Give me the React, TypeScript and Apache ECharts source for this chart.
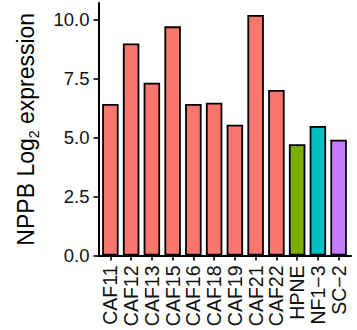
import React, { useEffect, useRef } from "react";
import * as echarts from "echarts";

const categories = ["CAF11", "CAF12", "CAF13", "CAF15", "CAF16", "CAF18", "CAF19", "CAF21", "CAF22", "HPNE", "NF1−3", "SC−2"];
const values = [6.43, 8.99, 7.33, 9.72, 6.43, 6.48, 5.55, 10.2, 7.02, 4.72, 5.49, 4.91];
const groups = ["CAF", "CAF", "CAF", "CAF", "CAF", "CAF", "CAF", "CAF", "CAF", "HPNE", "NF1-3", "SC-2"];
const groupColors: Record<string, string> = {
  CAF: "#F8766D",
  HPNE: "#7CAE00",
  "NF1-3": "#00BFC4",
  "SC-2": "#C77CFF",
};
const yTicks = [0, 2.5, 5, 7.5, 10];
const yMax = 10.71;

const FONT = "Liberation Sans, Arial, Helvetica, sans-serif";

export default function App() {
  const ref = useRef<HTMLDivElement>(null);
  useEffect(() => {
    if (!ref.current) return;
    const chart = echarts.init(ref.current, null, { renderer: "svg" });
    const gridTop = 3;
    const gridBottom = 74.5;
    chart.setOption({
      animation: false,
      backgroundColor: "#ffffff",
      grid: [
        { left: 98.5, right: 6, top: gridTop, bottom: gridBottom },
        { left: 100, right: 8, top: gridTop, bottom: gridBottom },
      ],
      xAxis: [
        {
          type: "category",
          gridIndex: 0,
          data: categories,
          axisLine: { show: true, lineStyle: { color: "#000", width: 2 } },
          axisTick: { show: false },
          axisLabel: { show: false },
          splitLine: { show: false },
        },
        {
          type: "category",
          gridIndex: 1,
          data: categories,
          axisLine: { show: false },
          axisTick: { show: true, alignWithLabel: true, length: 5, lineStyle: { color: "#000", width: 1.6 } },
          axisLabel: {
            rotate: 90,
            interval: 0,
            margin: 10,
            color: "#111",
            fontSize: 19.5,
            fontFamily: FONT,
          },
          splitLine: { show: false },
        },
      ],
      yAxis: [
        {
          type: "value",
          gridIndex: 0,
          min: 0,
          max: yMax,
          axisLine: { show: true, lineStyle: { color: "#000", width: 2 } },
          axisTick: { show: true, length: 5, lineStyle: { color: "#000", width: 1.6 }, customValues: yTicks },
          axisLabel: {
            margin: 9,
            color: "#111",
            fontSize: 18.5,
            fontFamily: FONT,
            customValues: yTicks,
            formatter: (v: number) => v.toFixed(1),
          },
          splitLine: { show: false },
          name: "{m|NPPB Log}{s|2}{m| expression}",
          nameLocation: "middle",
          nameRotate: 90,
          nameGap: 58,
          nameTextStyle: {
            fontFamily: FONT,
            color: "#000",
            rich: {
              m: { fontSize: 23, fontFamily: FONT, color: "#000", lineHeight: 30 },
              s: { fontSize: 14, fontFamily: FONT, color: "#000", verticalAlign: "bottom", padding: [8, 0, 0, 0] },
            },
          },
        },
        {
          type: "value",
          gridIndex: 1,
          min: 0,
          max: yMax,
          show: false,
          splitLine: { show: false },
        },
      ],
      series: [
        {
          type: "bar",
          xAxisIndex: 1,
          yAxisIndex: 1,
          barWidth: 16.5,
          data: values.map((v, i) => ({
            value: v,
            itemStyle: { color: groupColors[groups[i]], borderColor: "#000", borderWidth: 1.8 },
          })),
        },
      ],
    });
    return () => chart.dispose();
  }, []);
  return <div ref={ref} style={{ position: "fixed", left: 0, top: 0, width: 357, height: 330 }} />;
}
